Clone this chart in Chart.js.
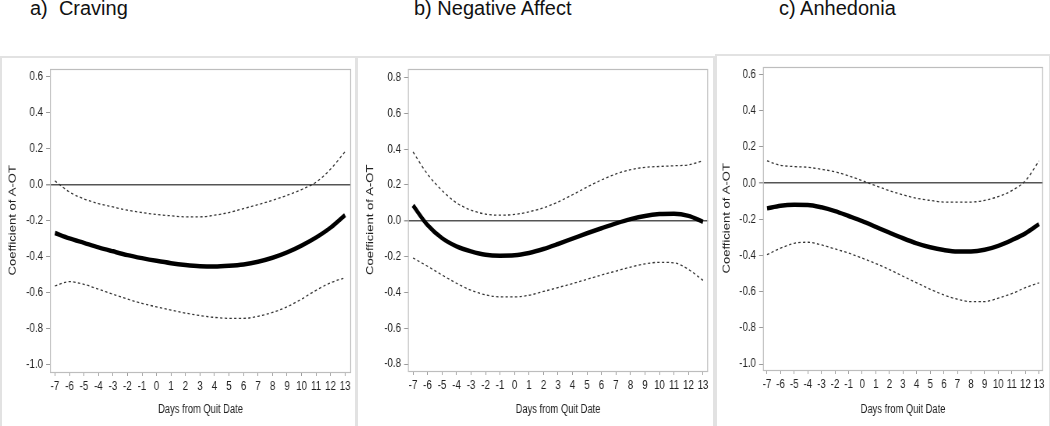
<!DOCTYPE html>
<html>
<head>
<meta charset="utf-8">
<script src="https://cdn.jsdelivr.net/npm/chart.js@4.4.1/dist/chart.umd.min.js"></script>
<style>
  html, body { margin: 0; padding: 0; background: #fff; }
  body { width: 1050px; height: 426px; position: relative; overflow: hidden; font-family: 'Liberation Sans', Arial, sans-serif; }
  .title { position: absolute; top: -3px; font-size: 20px; color: #111; white-space: pre; }
  .frame { position: absolute; border: 2px solid #e2e2e2; box-sizing: border-box; }
  canvas { position: absolute; transform-origin: 0 0; }
</style>
</head>
<body>
<div class="title" style="left:30px">a)  Craving</div>
<div class="title" style="left:414px">b) Negative Affect</div>
<div class="title" style="left:779px">c) Anhedonia</div>

<div class="frame" style="left:0px; top:56px; width:357px; height:372px"></div>
<div class="frame" style="left:356px; top:56px; width:359px; height:372px"></div>
<div class="frame" style="left:715px; top:54px; width:336px; height:374px"></div>

<canvas id="c1"></canvas>
<canvas id="c2"></canvas>
<canvas id="c3"></canvas>

<script>
// ---- Data ----
const days = [-7,-6,-5,-4,-3,-2,-1,0,1,2,3,4,5,6,7,8,9,10,11,12,13];
const xTickLabels = days;

// a) Craving
const cravingEst   = [-0.27,-0.30,-0.325,-0.35,-0.372,-0.393,-0.41,-0.425,-0.438,-0.448,-0.455,-0.457,-0.453,-0.445,-0.43,-0.408,-0.378,-0.34,-0.295,-0.24,-0.17];
const cravingUpper = [0.02,-0.042,-0.08,-0.106,-0.125,-0.143,-0.156,-0.167,-0.174,-0.18,-0.18,-0.171,-0.156,-0.134,-0.112,-0.088,-0.06,-0.028,0.013,0.086,0.183];
const cravingLower = [-0.565,-0.541,-0.556,-0.583,-0.611,-0.638,-0.662,-0.681,-0.699,-0.716,-0.73,-0.74,-0.745,-0.745,-0.734,-0.712,-0.681,-0.638,-0.589,-0.547,-0.519];
const cravingYTicks = [-1.0,-0.8,-0.6,-0.4,-0.2,0.0,0.2,0.4,0.6];

// b) Negative Affect
const negEst   = [0.086,-0.024,-0.097,-0.143,-0.171,-0.19,-0.195,-0.193,-0.18,-0.158,-0.13,-0.10,-0.07,-0.042,-0.015,0.009,0.027,0.037,0.039,0.027,-0.006];
const negUpper = [0.384,0.26,0.169,0.10,0.059,0.037,0.031,0.035,0.05,0.072,0.105,0.145,0.188,0.228,0.261,0.285,0.298,0.303,0.307,0.312,0.335];
const negLower = [-0.208,-0.254,-0.303,-0.349,-0.388,-0.414,-0.425,-0.425,-0.416,-0.395,-0.373,-0.351,-0.327,-0.303,-0.281,-0.259,-0.241,-0.232,-0.235,-0.272,-0.333];
const negYTicks = [-0.8,-0.6,-0.4,-0.2,0.0,0.2,0.4,0.6,0.8];

// c) Anhedonia
const anhEst   = [-0.14,-0.125,-0.12,-0.121,-0.134,-0.155,-0.182,-0.21,-0.242,-0.274,-0.305,-0.333,-0.355,-0.37,-0.378,-0.378,-0.369,-0.347,-0.315,-0.278,-0.227];
const anhUpper = [0.122,0.098,0.091,0.087,0.076,0.062,0.04,0.013,-0.015,-0.042,-0.065,-0.084,-0.096,-0.105,-0.105,-0.105,-0.096,-0.075,-0.042,0.013,0.122];
const anhLower = [-0.396,-0.36,-0.333,-0.327,-0.342,-0.364,-0.387,-0.415,-0.445,-0.478,-0.515,-0.551,-0.587,-0.618,-0.642,-0.655,-0.655,-0.636,-0.611,-0.578,-0.551];
const anhYTicks = [-1.0,-0.8,-0.6,-0.4,-0.2,0.0,0.2,0.4,0.6];

const yTitle = 'Coefficient of A-OT';
const xTitle = 'Days from Quit Date';

// ---- Rendering ----
// The reference figure is horizontally condensed; each chart is drawn wider and squeezed with CSS.
const K = 0.78;
const REG = "'Liberation Sans', Arial, sans-serif";
const TEXT = '#222';

const framePlugin = {
  id: 'plotFrame',
  beforeDatasetsDraw(chart) {
    const a = chart.chartArea, ctx = chart.ctx;
    ctx.save();
    ctx.strokeStyle = '#bdbdbd';
    ctx.lineWidth = 1.2;
    ctx.strokeRect(a.left + 0.5, Math.round(a.top) + 0.5, a.right - a.left - 1, Math.round(a.bottom - a.top) - 1);
    ctx.restore();
  }
};

function pts(ys) { return days.map((d, i) => ({ x: d, y: ys[i] })); }

// L: layout in page pixels
function makeChart(id, est, up, lo, yTicks, L) {
  const cv = document.getElementById(id);
  const cw = Math.round(L.w / K);
  cv.width = cw; cv.height = L.h;
  cv.style.left = L.left + 'px'; cv.style.top = L.top + 'px';
  cv.style.transform = 'scaleX(' + K + ')';
  const yW = (L.areaLeft - L.left) / K;
  const padRight = cw - (L.areaRight - L.left) / K;
  const padTop = L.areaTop - L.top;
  const xH = L.h - (L.areaBottom - L.top);
  const yTitleSize = 13;
  const yTitlePad = (L.yTitleX - L.left) / K - yTitleSize * 1.2 / 2;
  new Chart(cv, {
    type: 'line',
    data: {
      datasets: [
        { data: pts(up), borderColor: '#333', borderWidth: 1.3, borderDash: [3, 3], pointRadius: 0, cubicInterpolationMode: 'monotone', fill: false },
        { data: pts(lo), borderColor: '#333', borderWidth: 1.3, borderDash: [3, 3], pointRadius: 0, cubicInterpolationMode: 'monotone', fill: false },
        { data: pts(est), borderColor: '#000', borderWidth: 4.5, pointRadius: 0, cubicInterpolationMode: 'monotone', fill: false, borderCapStyle: 'butt' }
      ]
    },
    options: {
      responsive: false,
      animation: false,
      devicePixelRatio: 1,
      events: [],
      layout: { padding: { left: 0, right: padRight, top: padTop, bottom: 0 } },
      plugins: { legend: { display: false }, tooltip: { enabled: false }, title: { display: false } },
      scales: {
        x: {
          type: 'linear',
          min: L.xmin, max: L.xmax,
          afterBuildTicks: s => { s.ticks = xTickLabels.map(v => ({ value: v })); },
          afterFit: s => { s.height = xH; },
          border: { display: false },
          grid: { drawOnChartArea: false, drawTicks: true, tickLength: 4, tickColor: '#9a9a9a', color: '#9a9a9a' },
          ticks: { font: { family: REG, size: 12.5 }, color: TEXT, padding: 3, maxRotation: 0, autoSkip: false, callback: v => String(v) },
          title: { display: true, text: xTitle, font: { family: REG, size: 12 }, color: TEXT, padding: { top: 0, bottom: 9 } }
        },
        y: {
          type: 'linear',
          min: L.ymin, max: L.ymax,
          afterBuildTicks: s => { s.ticks = yTicks.map(v => ({ value: v })); },
          afterFit: s => { s.width = yW; },
          border: { display: false },
          grid: {
            drawOnChartArea: true, drawTicks: true, tickLength: 5, tickColor: '#9a9a9a',
            color: c => (c.tick && Math.abs(c.tick.value) < 1e-9) ? '#555' : 'rgba(0,0,0,0)',
            lineWidth: c => (c.tick && Math.abs(c.tick.value) < 1e-9) ? 1.5 : 1
          },
          ticks: { font: { family: REG, size: 12.5 }, color: TEXT, padding: 4, autoSkip: false, callback: v => v.toFixed(1) },
          title: { display: true, text: yTitle, font: { family: REG, size: yTitleSize }, color: TEXT, padding: { top: yTitlePad, bottom: 0 } }
        }
      }
    },
    plugins: [framePlugin]
  });
}

makeChart('c1', cravingEst, cravingUpper, cravingLower, cravingYTicks,
  { left: 0, top: 57, w: 356, h: 369, areaLeft: 50, areaRight: 351, areaTop: 65, areaBottom: 372, yTitleX: 13,
    xmin: -7.34, xmax: 13.41, ymin: -1.044, ymax: 0.646 });
makeChart('c2', negEst, negUpper, negLower, negYTicks,
  { left: 356, top: 57, w: 358, h: 369, areaLeft: 408, areaRight: 708, areaTop: 65, areaBottom: 371, yTitleX: 370,
    xmin: -7.345, xmax: 13.345, ymin: -0.839, ymax: 0.85 });
makeChart('c3', anhEst, anhUpper, anhLower, anhYTicks,
  { left: 714, top: 55, w: 336, h: 371, areaLeft: 763, areaRight: 1043, areaTop: 63, areaBottom: 370, yTitleX: 727,
    xmin: -7.294, xmax: 13.294, ymin: -1.033, ymax: 0.644 });
</script>
</body>
</html>
